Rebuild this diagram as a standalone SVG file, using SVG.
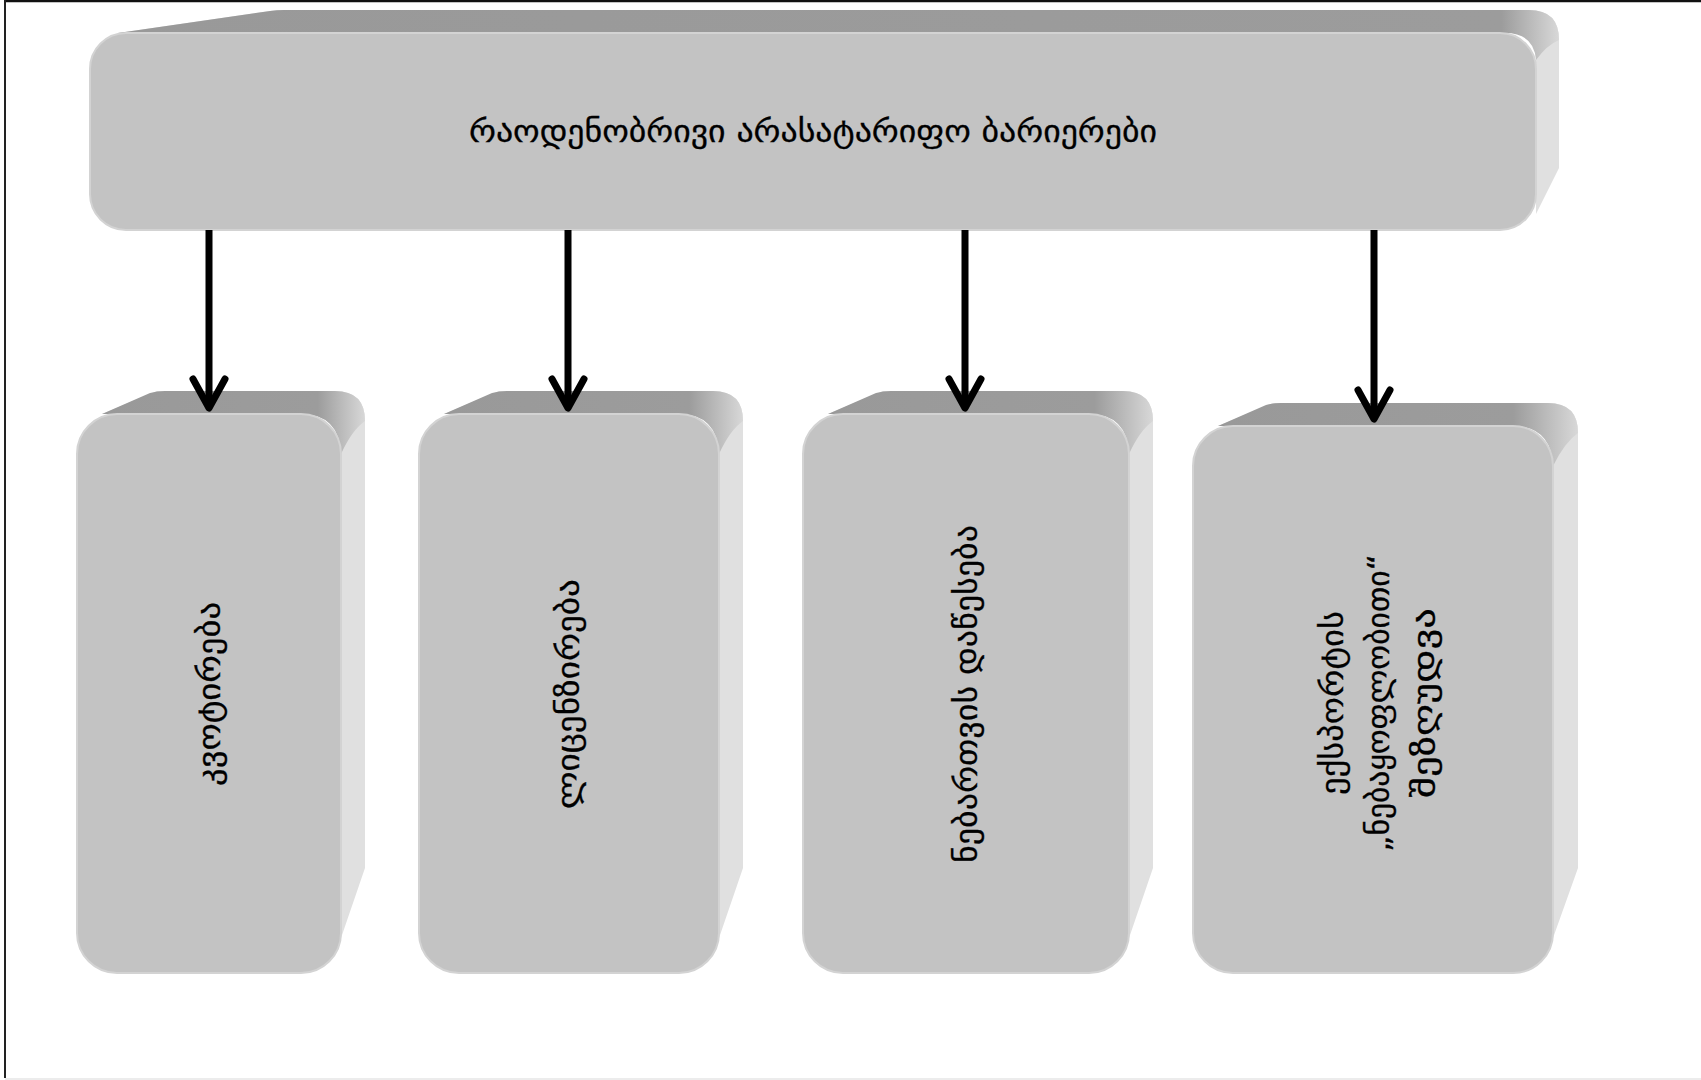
<svg xmlns="http://www.w3.org/2000/svg" width="1701" height="1080" viewBox="0 0 1701 1080">
<style>
.side{fill:#e0e0e0}
.top{fill:url(#topg)}
.front{fill:#c3c3c3;stroke:#d3d3d3;stroke-width:2}
.lbl{font-family:"DejaVu Sans",sans-serif;font-size:31px;fill:#000;stroke:#000;stroke-width:0.3;text-anchor:middle;dominant-baseline:central}
.conn{stroke:#000;stroke-width:7;fill:none;marker-end:url(#chev)}
</style>
<defs>
<linearGradient id="topg" x1="0" y1="0" x2="1" y2="0">
<stop offset="0" stop-color="#999999"/>
<stop offset="0.82" stop-color="#9c9c9c"/>
<stop offset="1" stop-color="#d8d8d8"/>
</linearGradient>
<linearGradient id="topgm" x1="0" y1="0" x2="1" y2="0">
<stop offset="0" stop-color="#999999"/>
<stop offset="0.96" stop-color="#9c9c9c"/>
<stop offset="1" stop-color="#d8d8d8"/>
</linearGradient>
<marker id="chev" markerUnits="userSpaceOnUse" viewBox="-40 -25 50 50" markerWidth="50" markerHeight="50" refX="0" refY="0" orient="auto" overflow="visible">
<path d="M-29,-16 L0,0 L-29,16" fill="none" stroke="#000" stroke-width="7" stroke-linecap="round" stroke-linejoin="round"/>
</marker>
</defs>
<rect x="0" y="0" width="1701" height="1080" fill="#fff"/>
<line x1="4" y1="1" x2="1701" y2="1" stroke="#111" stroke-width="2.5"/>
<line x1="5" y1="0" x2="5" y2="1078" stroke="#222" stroke-width="2"/>
<line x1="5" y1="1079" x2="1701" y2="1079" stroke="#ececec" stroke-width="2"/>

<g id="main">
<path class="side" d="M118,33 L277,10 L1529,10 Q1559,10 1559,40 L1559,168 L1536,214 L1536,33 Z"/>
<path d="M118,33 L270,11 Q277,10 284,10 L1529,10 Q1559,10 1559,40 Q1547,45 1536,60 Q1534,33 1505,33 Z" fill="url(#topgm)"/>
<rect class="front" x="90" y="33" width="1446" height="197" rx="36"/>
<text class="lbl" x="813" y="131" textLength="688" lengthAdjust="spacingAndGlyphs">რაოდენობრივი არასატარიფო  ბარიერები</text>
</g>

<g id="n1">
<path class="side" d="M102,414 L157,391 L335,391 Q365,391 365,421 L365,868 L341,938 L341,414 Z"/>
<path class="top" d="M102,414 L150,393 Q157,391 165,391 L335,391 Q365,391 365,421 Q352,430 341,454 Q339,414 301,414 Z"/>
<rect class="front" x="77" y="414" width="264" height="559" rx="40"/>
<text class="lbl" transform="translate(209,694) rotate(-90)" textLength="184" lengthAdjust="spacingAndGlyphs">კვოტირება</text>
</g>

<g id="n2">
<path class="side" d="M444,414 L499,391 L713,391 Q743,391 743,421 L743,868 L719,938 L719,414 Z"/>
<path class="top" d="M444,414 L492,393 Q499,391 507,391 L713,391 Q743,391 743,421 Q730,430 719,454 Q717,414 679,414 Z"/>
<rect class="front" x="419" y="414" width="300" height="559" rx="40"/>
<text class="lbl" transform="translate(568,694) rotate(-90)" textLength="230" lengthAdjust="spacingAndGlyphs">ლიცენზირება</text>
</g>

<g id="n3">
<path class="side" d="M828,414 L883,391 L1123,391 Q1153,391 1153,421 L1153,868 L1129,938 L1129,414 Z"/>
<path class="top" d="M828,414 L876,393 Q883,391 891,391 L1123,391 Q1153,391 1153,421 Q1140,430 1129,454 Q1127,414 1089,414 Z"/>
<rect class="front" x="803" y="414" width="326" height="559" rx="40"/>
<text class="lbl" transform="translate(966,694) rotate(-90)" textLength="338" lengthAdjust="spacingAndGlyphs">ნებართვის დაწესება</text>
</g>

<g id="n4">
<path class="side" d="M1218,426 L1273,403 L1548,403 Q1578,403 1578,433 L1578,868 L1553,938 L1553,426 Z"/>
<path class="top" d="M1218,426 L1266,405 Q1273,403 1281,403 L1548,403 Q1578,403 1578,433 Q1565,442 1553,466 Q1551,426 1513,426 Z"/>
<rect class="front" x="1193" y="426" width="360" height="547" rx="40"/>
<text class="lbl" transform="translate(1378,703) rotate(-90)"><tspan x="0" y="-46" textLength="184" lengthAdjust="spacingAndGlyphs">ექსპორტის</tspan><tspan x="0" y="0" textLength="298" lengthAdjust="spacingAndGlyphs">„ნებაყოფლობითი“</tspan><tspan x="0" y="46" textLength="190" lengthAdjust="spacingAndGlyphs">შეზღუდვა</tspan></text>
</g>

<g id="connectors">
<line class="conn" x1="209" y1="230" x2="209" y2="408"/>
<line class="conn" x1="568" y1="230" x2="568" y2="408"/>
<line class="conn" x1="965" y1="230" x2="965" y2="408"/>
<line class="conn" x1="1374" y1="230" x2="1374" y2="419"/>
</g>
</svg>
